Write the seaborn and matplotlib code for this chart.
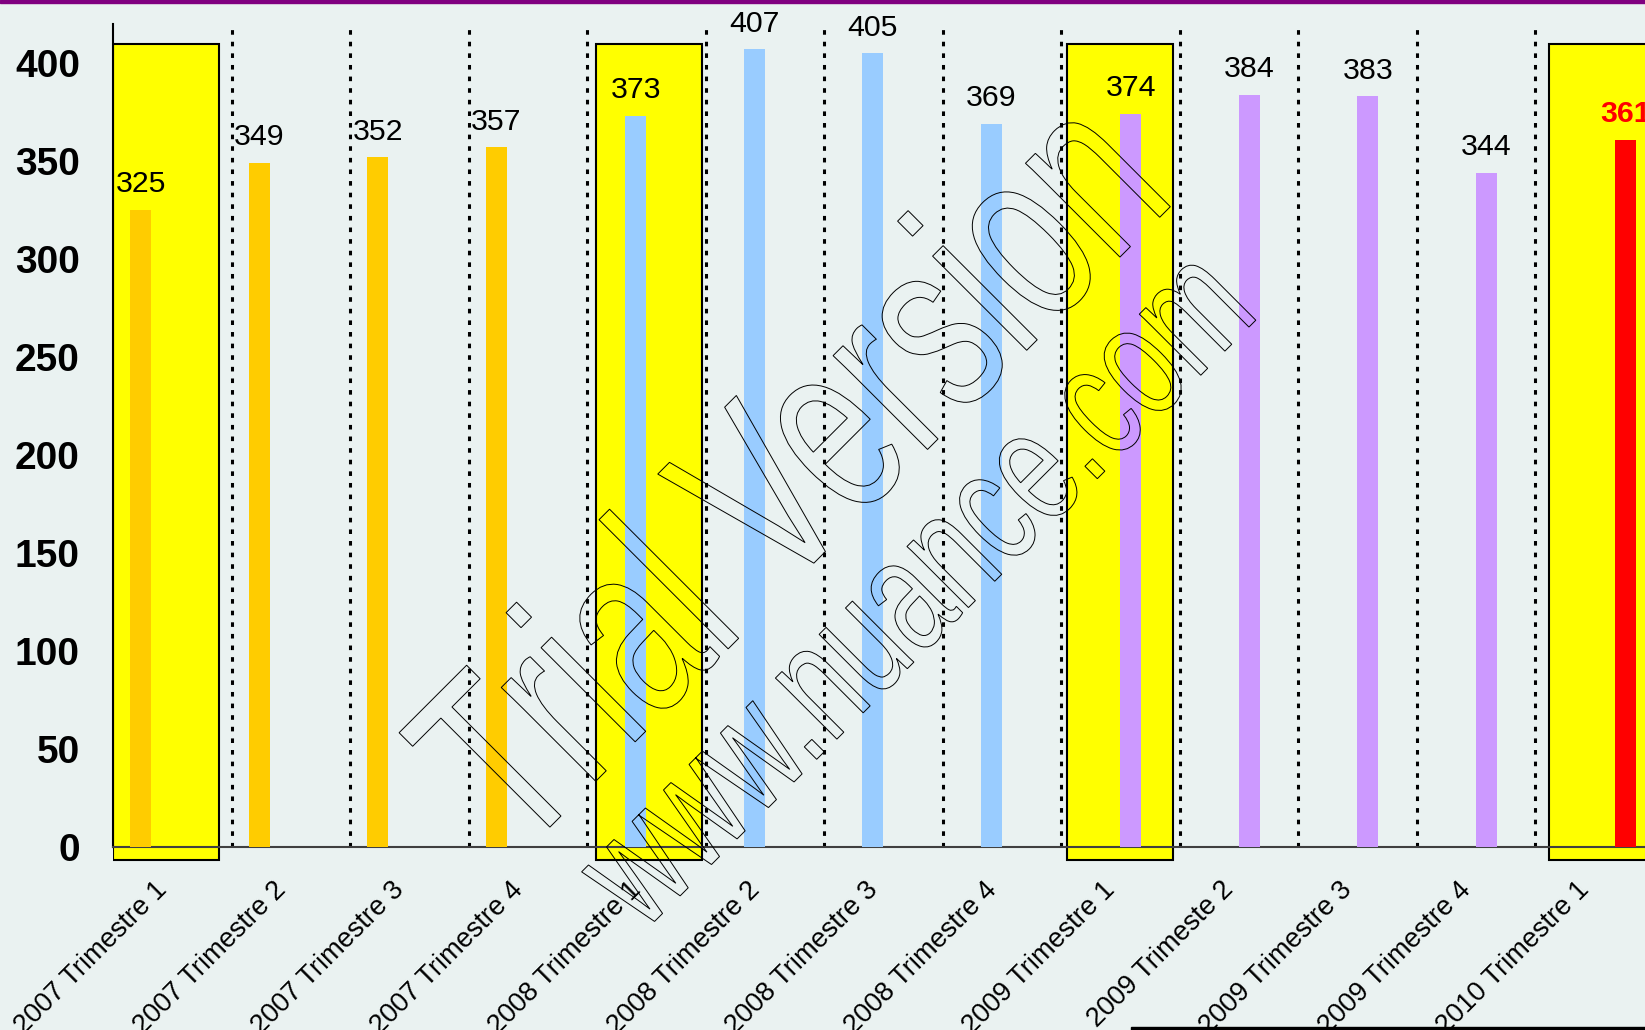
import numpy as np
import pandas as pd
import seaborn as sns
import matplotlib.pyplot as plt
from matplotlib.patches import Rectangle, PathPatch
from matplotlib.textpath import TextPath
from matplotlib.font_manager import FontProperties
from matplotlib.transforms import Affine2D, IdentityTransform, ScaledTranslation

# Les données
trimestres = ['2007 Trimestre 1', '2007 Trimestre 2', '2007 Trimestre 3', '2007 Trimestre 4',
              '2008 Trimestre 1', '2008 Trimestre 2', '2008 Trimestre 3', '2008 Trimestre 4',
              '2009 Trimestre 1', '2009 Trimeste 2', '2009 Trimestre 3', '2009 Trimestre 4',
              '2010 Trimestre 1']
annees = ['2007'] * 4 + ['2008'] * 4 + ['2009'] * 4 + ['2010']
valeurs = [325, 349, 352, 357, 373, 407, 405, 369, 374, 384, 383, 344, 361]
ordre_annees = ['2007', '2008', '2009', '2010']
couleurs = {'2007': '#FFCC00', '2008': '#99CCFF', '2009': '#CC99FF', '2010': '#FF0000'}
trimestres_surlignes = ['2007 Trimestre 1', '2008 Trimestre 1', '2009 Trimestre 1', '2010 Trimestre 1']
graduations_y = list(range(0, 401, 50))

donnees = pd.DataFrame({'trimestre': trimestres, 'annee': annees, 'valeur': valeurs})

fond = '#EAF2F1'
sns.set_style('white')
plt.rcParams['font.family'] = ['Liberation Sans', 'DejaVu Sans']

L, H = 1645, 1030
fig = plt.figure(figsize=(L / 100, H / 100), dpi=100, facecolor=fond)
ax = fig.add_axes([113 / L, (H - 886) / H, (L - 113) / L, (886 - 24) / H])
ax.set_facecolor(fond)

sns.barplot(data=donnees, x='trimestre', y='valeur', hue='annee', order=trimestres,
            hue_order=ordre_annees, palette=couleurs, width=0.71, saturation=1,
            dodge=True, errorbar=None, legend=False, linewidth=0, ax=ax, zorder=3)

ax.set_xlim(-0.5, -0.5 + (L - 113) / 118.5)
ax.set_ylim(-20, 420)

# Les rectangles jaunes pour les premiers trimestres
decalages = [0.0, 0.076, 0.05, 0.118]
for t, d in zip(trimestres_surlignes, decalages):
    i = trimestres.index(t)
    ax.add_patch(Rectangle((i - 0.5 + d, -6.8), 0.895, 416.8, facecolor='#FFFF00',
                           edgecolor='black', linewidth=1.5, zorder=1))

# Les lignes pointillées entre les trimestres
bornes = np.arange(0.5, len(trimestres) - 1, 1.0)
ax.vlines(bornes, 0, 420, colors='black', linewidth=2.2,
          linestyles=(0, (1.5, 2.3)), zorder=1.5)

# Les étiquettes de valeurs
for annee, conteneur in zip(ordre_annees, ax.containers):
    for barre in conteneur:
        h = barre.get_height()
        if np.isnan(h):
            continue
        rouge = annee == '2010'
        ax.annotate(f'{h:.0f}', (barre.get_x() + barre.get_width() / 2, h),
                    xytext=(0, 12.7), textcoords='offset points', ha='center', va='baseline',
                    fontsize=21.8, color='#FF0000' if rouge else 'black',
                    fontweight='bold' if rouge else 'normal', zorder=4,
                    annotation_clip=False)

# Les axes
for c in ['top', 'right']:
    ax.spines[c].set_visible(False)
ax.spines['left'].set_bounds(0, 420)
ax.spines['left'].set_linewidth(1.5)
ax.spines['left'].set_color('black')
ax.spines['bottom'].set_position(('data', 0))
ax.spines['bottom'].set_linewidth(1.5)
ax.spines['bottom'].set_color('#404040')

ax.set_yticks(graduations_y)
ax.set_yticklabels([str(v) for v in graduations_y], fontsize=28, fontweight='bold', color='black')
ax.tick_params(axis='y', length=9.4, width=1.4, pad=14.4, color='#404040')

ax.set_xticks(range(len(trimestres)))
ax.set_xticklabels(trimestres, fontsize=19.5, rotation=45, ha='right', va='center',
                   rotation_mode='anchor', color='black')
ax.set_xticks(bornes, minor=True)
ax.tick_params(axis='x', which='major', length=0, pad=28)
ax.tick_params(axis='x', which='minor', length=5.8, width=1.4, color='#404040')
ax.set_xlabel('')
ax.set_ylabel('')
decale = ScaledTranslation(-9 / 100, 0, fig.dpi_scale_trans)
for etiquette in ax.get_xticklabels():
    etiquette.set_transform(etiquette.get_transform() + decale)

# Les traits de la page
fig.add_artist(Rectangle((0, 1 - 3 / H), 1, 3 / H, transform=fig.transFigure,
                         color='#800080', zorder=5))
fig.add_artist(Rectangle((1131 / L, 0), 1, 3 / H, transform=fig.transFigure,
                         color='black', zorder=5))

# Le filigrane
police = FontProperties(family='Liberation Sans')


def filigrane(texte, x0, y0, em, etirement):
    chemin = TextPath((0, 0), texte, size=1, prop=police)
    tr = Affine2D().scale(em * etirement, em).rotate_deg(45).translate(x0, H - y0)
    fig.add_artist(PathPatch(tr.transform_path(chemin), facecolor='none', edgecolor='black',
                             linewidth=0.7, transform=IdentityTransform(), zorder=10))


filigrane('Trial Version', 519, 858, 252, 0.67)
filigrane('www.nuance.com', 643, 933, 164, 0.68)

fig.savefig('out.png', dpi=100, facecolor=fond)
